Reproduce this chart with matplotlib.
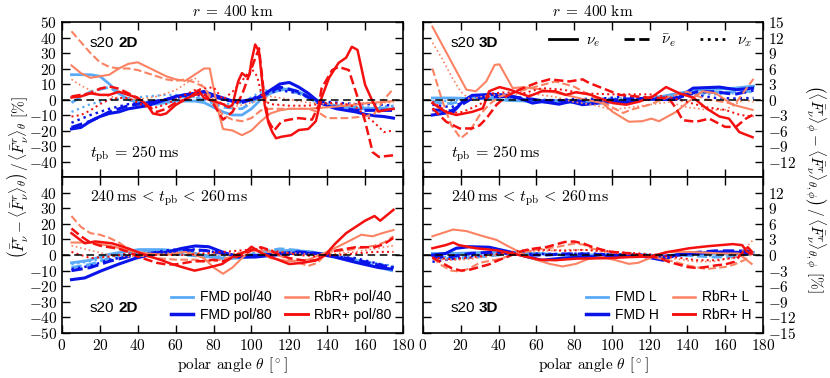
import numpy as np
import matplotlib
matplotlib.use("Agg")
import matplotlib.pyplot as plt
from matplotlib.lines import Line2D

plt.rcParams["font.family"] = "serif"
plt.rcParams["font.serif"] = ["cmr10"]
plt.rcParams["mathtext.fontset"] = "cm"
plt.rcParams["axes.formatter.use_mathtext"] = True

#### data ####

th10 = [5, 15, 25, 35, 45, 55, 65, 75, 85, 95, 105, 115, 125, 135, 145, 155, 165, 175]
th5 = list(range(5, 176, 5))

# --- 2D, t_pb = 250 ms ---
fmd40_nue_2d = [16, 16, 16, 15, 10, 4, 0, -2, -3, -3, -2, -1, -1, -1, -2, -5, -8, -10, -10, -6,
                0, 4, 6, 7, 5, 2, -1, -3, -4, -5, -6, -6, -6, -6, -6]
fmd40_anue_2d = [-2, 5, 8, 0, -2, 0, 2, 0, -5, -6, 2, 7, 4, -2, -4, -5, -6, -5]
fmd40_nux_2d = [-8, -3, 0, 1, 2, 3, 3, 0, -3, -2, 5, 8, 4, -2, -4, -5, -5, -4]

fmd80_nue_2d = [-19, -18, -14, -11, -9, -8, -6, -5, -4, -2, 0, 2, 3, 4, 5, 3, 1, -1, -1, 0,
                2, 6, 10, 11, 8, 4, -1, -4, -6, -7, -8, -9.5, -10.5, -11, -12]
fmd80_anue_2d = [-18, -14, -8, -4, -2, 0, 3, 5, 0, -2, 2, 8, 5, -2, -5, -7, -7, -7]
fmd80_nux_2d = [-15, -10, -6, -3, -2, 0, 2, 3, 0, -2, 3, 6, 4, -1, -2, -3, -3, -4]

th_rbr40_nue_2d = [5, 10, 15, 20, 25, 30, 35, 40, 45, 50, 55, 60, 65, 70, 75, 78, 82, 85, 90, 95,
                   100, 105, 110, 115, 120, 130, 140, 150, 160, 170, 175]
rbr40_nue_2d = [22, 17, 14, 15, 16, 20, 23, 24, 21, 18, 15, 13, 12, 16, 20, 20, -5, -19, -20, -23,
                -20, -14, -9, -7, -6, -6, -5, -4, -2.5, -1.5, -1]
th_rbr40_anue_2d = [5, 10, 15, 20, 25, 30, 35, 40, 45, 50, 55, 60, 65, 70, 75, 80, 85, 90, 95, 100,
                    105, 110, 120, 130, 135, 140, 150, 160, 165, 170, 175]
rbr40_anue_2d = [44, 37, 30, 24, 21, 20, 20, 19, 17, 15, 13, 12, 13, 11, 8, -2, -10, -13, -14, -12,
                 -7, -6, -6, -6, -8, -12, -12, -11, -9, 0, 7]
th_rbr40_nux_2d = [5, 10, 15, 20, 30, 40, 50, 60, 70, 75, 80, 90, 100, 110, 120, 130, 140, 150, 160, 170, 175]
rbr40_nux_2d = [13, 9, 6, 3, 1, 0, 2, 6, 14, 8, 0, -5, -2, 2, 0, -2, -3, -3, -2, -2, -2]

th_rbr80_nue_2d = [5, 10, 15, 20, 25, 30, 35, 40, 45, 48, 52, 55, 60, 65, 68, 72, 75, 80, 85, 88,
                   90, 93, 95, 97, 99, 100, 102, 104, 107, 109, 111, 113, 116, 121, 125, 130, 134,
                   137, 141, 146, 150, 153, 156, 160, 164, 167, 171, 175]
rbr80_nue_2d = [1.3, 2, 4, 3, 3, 5, 3, 1, -3.5, -9, -10, -9, -3.5, 0, 2, 6, 1, -1, -3, -5,
                -3.5, 11.7, 17, 15, 16, 24.7, 35.5, 31, -3.5, -15, -21, -25, -24, -23, -19.7, -19, -14,
                1, 14, 23.6, 27, 34, 32, 9.5, -1.3, -7.8, -6.7, -6]
th_rbr80_anue_2d = [5, 10, 15, 20, 25, 30, 35, 40, 45, 50, 55, 60, 65, 70, 75, 80, 85, 90, 95, 100,
                    104, 106.5, 109, 112, 116, 120, 125, 132, 135.6, 137, 142.6, 146, 151.4, 156.7,
                    160, 164, 167.3, 171, 175]
rbr80_anue_2d = [2, 3, 4, 7, 8.4, 7, 4, 1, -4, -8, -6, -2, 0, 3, 4, -3, -13, -8, 3, 20,
                 33, 5, -14, -20, -14, -13, -12, -13, -3.5, 7, 19, 21, 19, -1,
                 -14, -34, -37, -36.5, -36]
th_rbr80_nux_2d = [5, 10, 15, 20, 25, 30, 35, 40, 45, 50, 55, 60, 65, 70, 75, 80, 85, 90, 95, 100,
                   103, 106, 110, 120, 130, 140, 150, 155, 160, 165, 170, 175]
rbr80_nux_2d = [-11, -10, -7, -3, 0, 1, 1, -2, -5, -5, -3, 0, 3, 6, 7, 8, 0, 5, 12, 20,
                15, 0, -3, -4, -4, -2, -3, -5, -10, -15, -21, -20]

# --- 3D, t_pb = 250 ms ---
fmdL_nue_3d = [0.3, 0.3, 0.2, 0.2, -0.2, -0.3, -0.5, -0.5, -0.6, -0.5, -0.3, 0, 0.5, 1.2, 1.8, 2, 2.2, 2.6]
fmdL_anue_3d = [-0.5, -0.8, 0.2, 0.5, 0.2, 0, -0.3, -0.3, -0.2, 0, 0, 0.2, 0.5, 1, 1.2, 1.4, 1.5, 1.6]
fmdL_nux_3d = [-0.3, -0.3, 0.5, 1, 0.5, 0.2, 0, -0.2, 0, 0.2, 0.2, 0.3, 0.5, 0.7, 1, 1, 1.2, 1.5]

th_fmdH_nue_3d = [5, 16, 21, 26, 37, 46, 53, 58, 63, 72, 78, 84.5, 90, 100.6, 108, 116, 125, 134,
                  143, 150, 157, 166, 174.5]
fmdH_nue_3d = [-3, -2.4, -0.4, 0.8, 1, 0.8, 0, -0.7, -0.4, -0.9, -0.4, -1, -0.8, -0.4, -0.6, 0.1, 0, 0,
               2.2, 2.3, 2.4, 1.9, 2.2]
fmdH_anue_3d = [-2, -2.2, 0, 0.5, 0.6, 0.2, -0.3, -0.2, -0.3, -0.2, 0, 0.2, 0.1, 0.3, 1.5, 1.5, 1, 1.8]
fmdH_nux_3d = [-1, -1.5, 0, 1.2, 0.5, 0, -0.2, 0, 0.1, 0.2, 0.5, 0.3, 0.3, 0.5, 0.8, 0.3, 0.2, 0.3]

th_rbrL_nue_3d = [5, 23, 28, 33.5, 38, 40.5, 47.5, 53, 63.4, 74, 84.5, 95, 100.5, 109, 116, 121, 125,
                  134, 143, 148, 155, 164, 174.5]
rbrL_nue_3d = [14.1, 1.9, 1.6, 3.5, 6.7, 6.8, 2.2, 2.4, 1.9, 1, 0.1, -0.7, -2.4, -4.3, -4.2, -3.7, -4.2,
               -2.4, 0.3, 1.6, 1.2, -1, -2]
th_rbrL_anue_3d = [5, 10, 15, 20, 25, 30, 35, 40, 50, 60, 70, 80, 90, 100, 106, 110, 120, 130, 140,
                   150, 160, 165, 170, 175]
rbrL_anue_3d = [6, 0, -5, -7.5, -6, -3, -1, 0.5, 1.5, 2.5, 3.5, 2.5, 0.5, -1.5, -2.6, -2, -1, 0.5, 1.5,
                0, -0.5, -1, 1.5, 4]
th_rbrL_nux_3d = [5, 10, 15, 20, 25, 30, 40, 50, 60, 70, 80, 90, 100, 110, 120, 130, 140, 150, 160, 170, 175]
rbrL_nux_3d = [11, 8, 4.5, 1.5, 0, 0.5, 1, 1, 1, 0.5, -0.5, -1, -2, -1.5, -1, -0.5, -1.5, -2, -2, 0, -0.5]

th_rbrH_nue_3d = [5, 12, 17.6, 26, 31.7, 35, 40.5, 46, 53, 56, 63, 70, 75.7, 81, 88, 100.6, 107.6,
                  114.6, 121.7, 128.7, 135.8, 143, 150, 157, 162, 167.5, 174.5]
rbrH_nue_3d = [-0.7, -2.4, -3, -2.4, -1.7, 1.6, 2.4, 1.9, 1, 0.6, 1.6, 1.6, 0.9, 1.4, 1, -0.7, -1,
               -0.4, 0.6, 2.4, 1.2, 0.4, -1.7, -3.3, -3.7, -6.3, -7.3]
th_rbrH_anue_3d = [5, 12.3, 19.4, 26, 30, 33.5, 39, 44, 51, 60, 67, 77.5, 84.5, 88, 95, 104, 121.7,
                   130, 134, 137.5, 144.6, 151.6, 160, 165.7, 171, 174.5]
rbrH_anue_3d = [-1.7, -4.3, -5.6, -5.6, -5, -3.7, -1, 0.6, 1.9, 3.2, 3.9, 3.5, 3.9, 3.2, 2.2, 0.9, 0.3,
                0.3, -1.7, -4, -4.3, -3.7, -5.3, -5.3, -3.7, -3]
th_rbrH_nux_3d = [5, 14, 21, 30, 37, 44, 53, 63, 74, 84.5, 100, 120, 130, 140, 150, 160, 168, 175]
rbrH_nux_3d = [-0.4, -2.7, -2.4, -1, 1.2, 1.4, 1.2, 2.2, 1.9, 1.2, 1, 1, 0.5, -0.5, -1.5, -2, -3, -3.3]

# --- 2D, 240 ms < t_pb < 260 ms ---
th_fmd40_nue_2da = [5, 14, 23, 32, 40.5, 53, 67, 79, 88, 98.6, 109, 120, 132, 141, 151, 164, 174]
fmd40_nue_2da = [-5, -3.5, 0, 2, 3.5, 3.5, 2, -1.3, -2.4, -1.3, 1.6, 3.1, 2, 0, -2.4, -6.9, -10]
fmd40_anue_2da = [-8, -6, -2, 1, 3, 2, 0, -1, -2, -1, 2, 4, 3, 1, -1, -3, -6, -8]
fmd40_nux_2da = [-6, -4, -1, 1, 2, 2, 1, 0, -1, 0, 2, 3, 2, 1, -1, -3, -5, -7]

th_fmd80_nue_2da = [5, 12, 21, 30, 39, 46, 56, 63, 70.4, 77.5, 84.5, 93, 102, 112.7, 123, 134, 144,
                    155, 167, 174]
fmd80_nue_2da = [-15.8, -14.7, -10, -5.8, -2, 0, 2, 4.2, 5.8, 5.3, 2, -1.3, -1.3, 0, 1.3, 1, -1.3,
                 -4.7, -8, -9]
fmd80_anue_2da = [-10, -8, -4, -1, 1, 2, 3, 3, 1, -1, 0, 1, 2, 1, -1, -3, -6, -8]
fmd80_nux_2da = [-9, -7, -3, -1, 1, 3, 4, 3, 1, -1, 0, 1, 1.5, 1, -1, -2, -5, -8]

th_rbr40_nue_2da = [5, 15, 25, 35, 45, 55, 65, 75, 80, 85, 90, 95, 100, 105, 110, 120, 130, 140, 150,
                    158, 164, 169, 175]
rbr40_nue_2da = [8, 8, 6, 3, 1, 0, 2, -2, -8, -12, -8, -2, 3, 2, -2, -4, -3, 2, 8, 13, 12, 14, 16]
th_rbr40_anue_2da = [5, 10, 15, 20, 25, 30, 35, 40, 45, 50, 60, 70, 80, 90, 100, 110, 120, 130, 135,
                     140, 150, 160, 165, 170, 175]
rbr40_anue_2da = [25, 18, 14, 13, 11, 8, 4, 0, -1, -2, -3, -3, -4, -1, 3, 2, -3, -7, -5,
                  2, 3, 5, 6, 8, 12]
rbr40_nux_2da = [6, 3, 0, -1, 0, 1, 2, 1, 0, 2, 3, 2, 1, 0, 1, 2, 4, 6]

th_rbr80_nue_2da = [5, 12, 17.6, 26.4, 35, 44, 53, 58, 67, 70, 77.5, 84.5, 91.5, 97, 100, 105.6,
                    112.7, 120, 127, 134, 139, 144, 150, 155, 160, 165, 168, 175]
rbr80_nue_2da = [14, 7.5, 8.7, 7.5, 4.2, 0, -3.5, -5.8, -9, -10, -8, -5.8, 0, 2, 5.3, 1,
                 -2.4, -5.8, -5, -3.5, 0, 7, 14, 18, 22, 25, 22, 29]
rbr80_anue_2da = [17, 12, 8, 6, 5, 4, 2, -1, -3, -5, -6, -6, -5, -4, -4, -3, -4, -2, 0, 3,
                  5, 3, 0, -2, -3, -4, -3, 1, 3, 4, 5, 5, 5, 7, 11]
rbr80_nux_2da = [2, -2, -1, 1, 0, 0, 0, 1, 2, 3, 4, 2, 0, -1, 0, 1, 2, 2]

# --- 3D, 240 ms < t_pb < 260 ms ---
fmdL_nue_3da = [0.3, 0.3, 0.4, 0.5, 0.5, 0.4, 0.2, 0, 0, 0, 0.1, 0, -0.3, 0.1, 0.3, 0.3, 0.1, 0.5]
fmdL_anue_3da = [-0.3, -0.7, -0.5, -0.2, 0.2, 0.3, 0.2, 0.1, 0, 0.1, 0.2, 0.1, -0.2, 0, -0.2, -0.4, -0.3, 0.3]
fmdL_nux_3da = [-0.5, -0.3, 0, 0.3, 0.3, 0.2, 0.1, 0, 0, 0.1, 0.2, 0.1, 0, -0.1, -0.2, -0.2, 0, 0.3]

th_fmdH_nue_3da = [5, 12, 17.6, 24.6, 35, 46, 56, 63, 74, 83, 98.6, 112.7, 123, 127, 134, 144, 158, 169, 174]
fmdH_nue_3da = [0, 0.3, 1.3, 1.6, 1.5, 0.6, -0.4, -1, -0.6, -0.4, -0.2, 0, -0.7, -1, 0, 0.3, 0.6, 0.5, 0.3]
fmdH_anue_3da = [-0.5, -0.3, 0.3, 0.5, 0.3, 0, 0, 0.2, 0.2, 0.1, 0, 0, -0.5, 0, 0.5, 0.8, 0.8, 0.7]
fmdH_nux_3da = [-1.3, -0.8, -0.3, 0.2, 0.5, 0.3, 0.2, 0.2, 0.3, 0.2, 0.1, 0.1, -0.2, 0, 0.3, 0.4, 0.3, 0.5]

th_rbrL_nue_3da = [5, 16, 23, 32, 39, 44, 51, 58, 67, 74, 81, 88, 95, 102, 109, 114, 121.5, 128.5,
                   141, 158, 167, 174]
rbrL_nue_3da = [3.6, 4.9, 4.6, 3.6, 2.9, 1.9, 0.6, -0.7, -1.7, -2.2, -1.7, -0.7, -0.4, -1, -1.7, -1.5,
                -0.4, 0.6, 0.6, 0.3, 0.3, -1.7]
th_rbrL_anue_3da = [5, 10, 15, 20, 25, 30, 40, 50, 60, 70, 80, 85, 90, 100, 110, 120, 130, 140, 150,
                    160, 165, 170, 175]
rbrL_anue_3da = [-0.5, -2, -3, -3.2, -2.5, -1.5, -0.8, 0.3, 1, 1.5, 2.2, 2, 1.2, 0.5, 0.3, -0.3, -1,
                 -2, -2.7, -2.3, -1.8, -1, 0.5]
th_rbrL_nux_3da = [5, 15, 25, 35, 45, 55, 65, 75, 85, 95, 105, 115, 125, 135, 145, 155, 165, 170, 175]
rbrL_nux_3da = [-0.7, -1, -0.8, -0.2, 0.3, 0.6, 0.8, 1, 1, 0.6, 0.3, 0.1, -0.3, -0.8, -1.3, -1.2,
                -0.5, 1, 3]

th_rbrH_nue_3da = [5, 12, 16, 19, 28, 39, 47.5, 53, 61.6, 70, 81, 98.6, 109, 120, 130, 141, 151,
                   164, 169, 171.6, 174]
rbrH_nue_3da = [1.3, 1.9, 2.4, 1.9, 1.3, 0.9, 0.3, -0.2, -0.9, -1, -0.7, -0.6, -0.4, -0.3, 0.6, 1.3,
                1.7, 2.1, 1.9, 0.6, 0.3]
th_rbrH_anue_3da = [5, 10, 15, 20, 25, 30, 35, 40, 45, 50, 55, 60, 65, 70, 75, 80, 85, 90, 95, 100,
                    110, 120, 125, 130, 135, 140, 145, 150, 155, 160, 165, 168, 172, 175]
rbrH_anue_3da = [-0.5, -1.5, -2.5, -3, -2.8, -2.3, -1.8, -1, -0.3, 0.5, 1, 1.3, 1.5, 2, 2.5, 2.6,
                 2.2, 1.5, 1, 0.6, 0.3, -0.3, -0.5, -1.3, -1.8, -2.3, -2.5, -2.3, -2, -1.8, -1.3,
                 0, 1.5, 0.3]
rbrH_nux_3da = [-0.5, -0.8, -0.5, 0, 0.5, 1, 1, 0.8, 1, 0.8, 0.5, 0.3, 0, -0.5, -1, -1, -0.5, 0.5]

#### style ####
c_fmd_lo = "#5aaaf8"
c_fmd_hi = "#0a14e8"
c_rbr_lo = "#fb8262"
c_rbr_hi = "#f51010"
lw_fmd_lo, lw_fmd_hi, lw_rbr_lo, lw_rbr_hi = 2.0, 2.2, 1.5, 1.8
lw_dot_scale = 0.8

tick_fs = 11
sans = "Liberation Sans"


def draw_panel(ax, series):
    for th, vals, col, ls, lw in series:
        if ls == ":":
            lw = lw * lw_dot_scale
        ax.plot(th, vals, color=col, ls=ls, lw=lw)
    ax.axhline(0, color="k", ls=(0, (5, 3)), lw=1.1, zorder=5)


def series_list(fl_nue, fl_anue, fl_nux, fh_nue, fh_anue, fh_nux, rl_nue, rl_anue, rl_nux, rh_nue, rh_anue, rh_nux):
    out = []
    for (th, v), ls in zip([fl_nue, fl_anue, fl_nux], ["-", "--", ":"]):
        out.append((th, v, c_fmd_lo, ls, lw_fmd_lo))
    for (th, v), ls in zip([fh_nue, fh_anue, fh_nux], ["-", "--", ":"]):
        out.append((th, v, c_fmd_hi, ls, lw_fmd_hi))
    for (th, v), ls in zip([rl_nue, rl_anue, rl_nux], ["-", "--", ":"]):
        out.append((th, v, c_rbr_lo, ls, lw_rbr_lo))
    for (th, v), ls in zip([rh_nue, rh_anue, rh_nux], ["-", "--", ":"]):
        out.append((th, v, c_rbr_hi, ls, lw_rbr_hi))
    return out


fig = plt.figure(figsize=(8.3, 3.78), dpi=100)
axTL = fig.add_axes([0.0747, 0.5317, 0.4108, 0.4101])
axBL = fig.add_axes([0.0747, 0.1190, 0.4108, 0.4127])
axTR = fig.add_axes([0.5096, 0.5317, 0.4096, 0.4101])
axBR = fig.add_axes([0.5096, 0.1190, 0.4096, 0.4127])

draw_panel(axTL, series_list(
    (th5, fmd40_nue_2d), (th10, fmd40_anue_2d), (th10, fmd40_nux_2d),
    (th5, fmd80_nue_2d), (th10, fmd80_anue_2d), (th10, fmd80_nux_2d),
    (th_rbr40_nue_2d, rbr40_nue_2d), (th_rbr40_anue_2d, rbr40_anue_2d), (th_rbr40_nux_2d, rbr40_nux_2d),
    (th_rbr80_nue_2d, rbr80_nue_2d), (th_rbr80_anue_2d, rbr80_anue_2d), (th_rbr80_nux_2d, rbr80_nux_2d)))

draw_panel(axTR, series_list(
    (th10, fmdL_nue_3d), (th10, fmdL_anue_3d), (th10, fmdL_nux_3d),
    (th_fmdH_nue_3d, fmdH_nue_3d), (th10, fmdH_anue_3d), (th10, fmdH_nux_3d),
    (th_rbrL_nue_3d, rbrL_nue_3d), (th_rbrL_anue_3d, rbrL_anue_3d), (th_rbrL_nux_3d, rbrL_nux_3d),
    (th_rbrH_nue_3d, rbrH_nue_3d), (th_rbrH_anue_3d, rbrH_anue_3d), (th_rbrH_nux_3d, rbrH_nux_3d)))

draw_panel(axBL, series_list(
    (th_fmd40_nue_2da, fmd40_nue_2da), (th10, fmd40_anue_2da), (th10, fmd40_nux_2da),
    (th_fmd80_nue_2da, fmd80_nue_2da), (th10, fmd80_anue_2da), (th10, fmd80_nux_2da),
    (th_rbr40_nue_2da, rbr40_nue_2da), (th_rbr40_anue_2da, rbr40_anue_2da), (th10, rbr40_nux_2da),
    (th_rbr80_nue_2da, rbr80_nue_2da), (th5, rbr80_anue_2da), (th10, rbr80_nux_2da)))

draw_panel(axBR, series_list(
    (th10, fmdL_nue_3da), (th10, fmdL_anue_3da), (th10, fmdL_nux_3da),
    (th_fmdH_nue_3da, fmdH_nue_3da), (th10, fmdH_anue_3da), (th10, fmdH_nux_3da),
    (th_rbrL_nue_3da, rbrL_nue_3da), (th_rbrL_anue_3da, rbrL_anue_3da), (th_rbrL_nux_3da, rbrL_nux_3da),
    (th_rbrH_nue_3da, rbrH_nue_3da), (th_rbrH_anue_3da, rbrH_anue_3da), (th10, rbrH_nux_3da)))

#### axes ####
xt = list(range(0, 181, 20))
for ax in [axTL, axBL, axTR, axBR]:
    ax.set_xlim(0, 180)
    ax.set_xticks(xt)
    ax.tick_params(direction="in", top=True, right=True, length=6, width=1, labelsize=tick_fs)
    for s in ax.spines.values():
        s.set_linewidth(1.2)

for ax in [axTL, axTR]:
    ax.tick_params(labelbottom=False)
    ax.set_title(r"$r\;=\;400\ \mathrm{km}$", fontsize=11, pad=4)
for ax in [axBL, axBR]:
    ax.set_xticklabels(["$%d$" % v for v in xt])
    ax.set_xlabel(r"polar angle $\theta$ [$^\circ$]", fontsize=11, labelpad=2)

axTL.set_ylim(-50, 50)
yt = list(range(-40, 51, 10))
axTL.set_yticks(yt)
axTL.set_yticklabels(["$%d$" % v for v in yt])
axBL.set_ylim(-50, 50)
yt = list(range(-50, 41, 10))
axBL.set_yticks(yt)
axBL.set_yticklabels(["$%d$" % v for v in yt])

for ax, yt in [(axTR, list(range(-12, 16, 3))), (axBR, list(range(-15, 13, 3)))]:
    ax.set_ylim(-15, 15)
    ax.set_yticks(yt)
    ax.set_yticklabels(["$%d$" % v for v in yt])
    ax.tick_params(labelleft=False, labelright=True)

#### annotations ####
for ax, dlab, y in [(axTL, "2D", 0.865), (axBL, "2D", 0.16), (axTR, "3D", 0.865), (axBR, "3D", 0.16)]:
    ax.text(0.082, y, "s20", transform=ax.transAxes, family=sans, fontsize=11, va="center")
    ax.text(0.165, y, dlab, transform=ax.transAxes, family=sans, fontsize=11,
            fontweight="bold", va="center")

for ax in [axTL, axTR]:
    ax.text(0.082, 0.15, r"$t_{\rm pb}\,=\,250\,{\rm ms}$", transform=ax.transAxes,
            fontsize=11.5, va="center")
for ax in [axBL, axBR]:
    ax.text(0.082, 0.865, r"$240\,{\rm ms}\,<\,t_{\rm pb}\,<\,260\,{\rm ms}$",
            transform=ax.transAxes, fontsize=11.5, va="center")

# flavour legend
fl_handles = [Line2D([], [], color="k", ls=ls, lw=2) for ls in ["-", "--", ":"]]
axTR.legend(fl_handles, [r"$\nu_e$", r"$\bar{\nu}_e$", r"$\nu_x$"], ncol=3, loc="upper right",
            frameon=False, fontsize=11, handlelength=1.8, handletextpad=0.6, columnspacing=1.6,
            borderaxespad=0.3)

# model legends
for ax, labs in [(axBL, ["FMD pol/40", "FMD pol/80", "RbR+ pol/40", "RbR+ pol/80"]),
                 (axBR, ["FMD L", "FMD H", "RbR+ L", "RbR+ H"])]:
    hs = [Line2D([], [], color=c_fmd_lo, lw=lw_fmd_lo), Line2D([], [], color=c_fmd_hi, lw=lw_fmd_hi + 0.3),
          Line2D([], [], color=c_rbr_lo, lw=lw_rbr_lo + 0.3), Line2D([], [], color=c_rbr_hi, lw=lw_rbr_hi + 0.3)]
    ax.legend(hs, labs, ncol=2, loc="lower right", frameon=False,
              prop={"family": sans, "size": 10}, handlelength=1.6, handletextpad=0.5,
              columnspacing=1.0, labelspacing=0.25, borderaxespad=0.4)

fig.text(0.022, 0.53,
         r"$\left(\bar{F}^r_\nu - \langle\bar{F}^r_\nu\rangle_\theta\right)\,/\,\langle\bar{F}^r_\nu\rangle_\theta$ [%]",
         rotation=90, va="center", ha="center", fontsize=11)
fig.text(0.982, 0.50,
         r"$\left(\langle\bar{F}^r_\nu\rangle_\phi - \langle\bar{F}^r_\nu\rangle_{\theta,\phi}\right)\,/\,\langle\bar{F}^r_\nu\rangle_{\theta,\phi}$ [%]",
         rotation=270, va="center", ha="center", fontsize=11)

fig.savefig("out.png", dpi=100)
